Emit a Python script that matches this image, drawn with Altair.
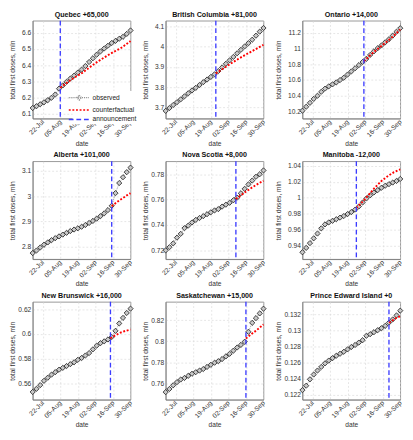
import altair as alt
import pandas as pd

FONT = "Liberation Sans"
START = "2021-07-14"

# day offsets (from 14-Jul-2021) of the sampled observed points
obs_day = [0, 3, 6, 9, 12, 15, 18, 21, 24, 27, 30, 33, 36, 39, 42, 45, 48, 51, 54, 57, 60, 63, 66, 69, 72, 75, 78]

quebec_obs = [6.137, 6.148, 6.160, 6.172, 6.185, 6.200, 6.220, 6.256, 6.276, 6.298, 6.318, 6.336, 6.355, 6.373,
              6.395, 6.420, 6.443, 6.465, 6.485, 6.503, 6.520, 6.537, 6.550, 6.563, 6.575, 6.593, 6.614]
quebec_cf_day = [22, 26, 30, 35, 40, 45, 50, 55, 60, 65, 70, 74, 78]
quebec_cf = [6.262, 6.285, 6.308, 6.332, 6.355, 6.385, 6.413, 6.438, 6.462, 6.484, 6.504, 6.526, 6.549]

bc_obs = [3.683, 3.697, 3.712, 3.726, 3.740, 3.755, 3.770, 3.784, 3.797, 3.811, 3.825, 3.838, 3.851, 3.864,
          3.880, 3.898, 3.916, 3.933, 3.950, 3.968, 3.985, 4.002, 4.018, 4.035, 4.055, 4.075, 4.093]
bc_cf_day = [40, 46, 52, 58, 64, 70, 78]
bc_cf = [3.868, 3.893, 3.917, 3.940, 3.962, 3.982, 4.010]

ontario_obs = [10.21, 10.26, 10.31, 10.36, 10.40, 10.45, 10.49, 10.52, 10.545, 10.57, 10.60, 10.63, 10.67, 10.71,
               10.75, 10.79, 10.83, 10.87, 10.92, 10.965, 11.005, 11.04, 11.08, 11.12, 11.165, 11.215, 11.26]
ontario_cf_day = [49, 55, 61, 67, 73, 78]
ontario_cf = [10.84, 10.93, 11.01, 11.085, 11.165, 11.245]

alberta_obs = [2.775, 2.785, 2.797, 2.808, 2.817, 2.826, 2.834, 2.841, 2.848, 2.855, 2.862, 2.868, 2.873, 2.879,
               2.886, 2.894, 2.902, 2.911, 2.921, 2.932, 2.945, 2.962, 3.012, 3.052, 3.075, 3.095, 3.113]
alberta_cf_day = [63, 66, 69, 72, 75, 78]
alberta_cf = [2.960, 2.972, 2.983, 2.993, 3.003, 3.012]

novascotia_obs = [0.7200, 0.7225, 0.7255, 0.7300, 0.7330, 0.7375, 0.7395, 0.7420, 0.7440, 0.7455, 0.7470, 0.7485,
                  0.7500, 0.7515, 0.7525, 0.7545, 0.7560, 0.7575, 0.7595, 0.7615, 0.7650, 0.7685, 0.7720, 0.7750,
                  0.7780, 0.7800, 0.7830]
novascotia_cf_day = [56, 60, 64, 68, 72, 76, 78]
novascotia_cf = [0.7605, 0.7633, 0.7663, 0.7690, 0.7715, 0.7738, 0.7748]

manitoba_obs = [0.9315, 0.9370, 0.9430, 0.9490, 0.9550, 0.9615, 0.9665, 0.9690, 0.9710, 0.9730, 0.9750, 0.9770,
                0.9795, 0.9820, 0.9850, 0.9890, 0.9940, 0.9990, 1.0030, 1.0065, 1.0095, 1.0125, 1.0150, 1.0170,
                1.0190, 1.0210, 1.0235]
manitoba_cf_day = [43, 48, 53, 58, 63, 68, 73, 78]
manitoba_cf = [0.987, 0.995, 1.004, 1.013, 1.021, 1.027, 1.032, 1.0355]

newbrunswick_obs = [0.5530, 0.5555, 0.5585, 0.5620, 0.5645, 0.5670, 0.5690, 0.5710, 0.5725, 0.5740, 0.5755,
                    0.5770, 0.5790, 0.5805, 0.5825, 0.5845, 0.5875, 0.5905, 0.5925, 0.5940, 0.5955, 0.5975,
                    0.6025, 0.6085, 0.6130, 0.6170, 0.6205]
newbrunswick_cf_day = [62, 66, 70, 74, 78]
newbrunswick_cf = [0.5965, 0.5990, 0.6010, 0.6025, 0.6035]

saskatchewan_obs = [0.7515, 0.7545, 0.7580, 0.7610, 0.7635, 0.7650, 0.7670, 0.7690, 0.7705, 0.7720, 0.7735,
                    0.7755, 0.7775, 0.7795, 0.7810, 0.7830, 0.7855, 0.7880, 0.7910, 0.7940, 0.7965, 0.7995,
                    0.8090, 0.8175, 0.8220, 0.8265, 0.8310]
saskatchewan_cf_day = [64, 68, 72, 76, 78]
saskatchewan_cf = [0.8025, 0.8065, 0.8100, 0.8140, 0.8160]

pei_obs = [0.12255, 0.12310, 0.12390, 0.12450, 0.12500, 0.12545, 0.12590, 0.12625, 0.12655, 0.12685, 0.12710,
           0.12735, 0.12765, 0.12795, 0.12820, 0.12850, 0.12880, 0.12935, 0.12955, 0.12980, 0.13005, 0.13030,
           0.13060, 0.13100, 0.13140, 0.13190, 0.13250]
pei_cf_day = [69, 72, 75, 78]
pei_cf = [0.1310, 0.1313, 0.1316, 0.1318]

titles = ["Quebec  +65,000", "British Columbia  +81,000", "Ontario  +14,000",
          "Alberta  +101,000", "Nova Scotia  +8,000", "Manitoba  -12,000",
          "New Brunswick  +16,000", "Saskatchewan  +15,000", "Prince Edward Island  +0"]
announce = ["2021-08-05", "2021-08-23", "2021-09-01",
            "2021-09-15", "2021-09-08", "2021-08-26",
            "2021-09-14", "2021-09-16", "2021-09-21"]
y_domains = [[6.072, 6.674], [3.645, 4.129], [10.11, 11.355],
             [2.751, 3.138], [0.7131, 0.7902], [0.9229, 1.0457],
             [0.5467, 0.626], [0.7443, 0.8375], [0.12135, 0.1336]]
y_ticks = [[6.1, 6.2, 6.3, 6.4, 6.5, 6.6], [3.7, 3.8, 3.9, 4.0, 4.1], [10.2, 10.4, 10.6, 10.8, 11.0, 11.2],
           [2.8, 2.9, 3.0, 3.1], [0.72, 0.74, 0.76, 0.78], [0.94, 0.96, 0.98, 1.0, 1.02, 1.04],
           [0.56, 0.58, 0.6, 0.62], [0.76, 0.78, 0.8, 0.82], [0.122, 0.124, 0.126, 0.128, 0.13, 0.132]]
x_tick_dates = [(7, 22), (8, 5), (8, 19), (9, 2), (9, 16), (9, 30)]

series = ["observed", "counterfactual", "announcement"]
series_colors = ["#8c8c8c", "#ff0000", "#3c3cff"]
series_dash = [[1, 1], [2, 1.8], [5, 3]]

obs_list = [quebec_obs, bc_obs, ontario_obs, alberta_obs, novascotia_obs, manitoba_obs,
            newbrunswick_obs, saskatchewan_obs, pei_obs]
cf_day_list = [quebec_cf_day, bc_cf_day, ontario_cf_day, alberta_cf_day, novascotia_cf_day, manitoba_cf_day,
               newbrunswick_cf_day, saskatchewan_cf_day, pei_cf_day]
cf_list = [quebec_cf, bc_cf, ontario_cf, alberta_cf, novascotia_cf, manitoba_cf,
           newbrunswick_cf, saskatchewan_cf, pei_cf]


def day_to_date(days):
    return (pd.Timestamp(START) + pd.to_timedelta(days, unit="D")).strftime("%Y-%m-%d").tolist()


def dt(m, d):
    return alt.DateTime(year=2021, month=m, date=d, utc=True)


color_scale = alt.Scale(domain=series, range=series_colors)
dash_scale = alt.Scale(domain=series, range=series_dash)

legend = alt.Legend(
    title=None, orient="none", legendX=42, legendY=74,
    symbolType={"expr": "datum.value === 'observed' ? 'M-2.75,0H2.75M0,-0.6L0.6,0L0,0.6L-0.6,0Z' : 'M-2.75,0H2.75'"},
    symbolSize=64, symbolStrokeWidth=1.5,
    symbolDash={"expr": "datum.value === 'counterfactual' ? [2, 1.8] : (datum.value === 'announcement' ? [5, 3] : [1, 1])"},
    symbolFillColor={"expr": "datum.value === 'observed' ? '#ffffff' : 'transparent'"},
    labelFontSize=7, labelFont=FONT, labelColor="#222222",
    fillColor="white", padding=2, rowPadding=2, labelOffset=9,
)

extents = [16, 16, 20]
panels = []
for i in range(9):
    obs_df = pd.DataFrame({"date": day_to_date(obs_day), "value": obs_list[i], "series": "observed"})
    cf_df = pd.DataFrame({"date": day_to_date(cf_day_list[i]), "value": cf_list[i], "series": "counterfactual"})
    ann_df = pd.DataFrame({"date": [announce[i]], "series": ["announcement"]})

    x = alt.X("date:T",
              scale=alt.Scale(type="utc", domain=[dt(7, 14), dt(9, 30)]),
              axis=alt.Axis(values=[dt(m, d) for m, d in x_tick_dates],
                            labelExpr="utcFormat(datum.value, '%d-%b')",
                            labelAngle=-45, labelAlign="right", labelBaseline="middle", labelFlush=False,
                            labelOverlap=False, title="date"))
    E = extents[i % 3]
    y = alt.Y("value:Q",
              scale=alt.Scale(domain=y_domains[i], zero=False, nice=False),
              axis=alt.Axis(values=y_ticks[i], format="~g", title="total first doses, mln",
                            minExtent=E, maxExtent=E))
    leg = legend if i == 0 else None
    col = alt.Color("series:N", scale=color_scale, legend=leg)
    dash = alt.StrokeDash("series:N", scale=dash_scale, legend=None)

    base_obs = alt.Chart(obs_df)
    line_obs = base_obs.mark_line(strokeWidth=0.9).encode(x=x, y=y, color=col, strokeDash=dash)
    pts_obs = base_obs.mark_point(shape="diamond", filled=True, fill="#c8c8c8", stroke="#111111",
                                  strokeWidth=0.8, size=30, opacity=1).encode(x=x, y=y)
    line_cf = alt.Chart(cf_df).mark_line(strokeWidth=2).encode(x=x, y=y, color=col, strokeDash=dash)
    rule = alt.Chart(ann_df).mark_rule(strokeWidth=1.4).encode(x=x, color=col, strokeDash=dash)

    p = alt.layer(line_obs, pts_obs, line_cf, rule).properties(
        width=103, height=103,
        title=alt.TitleParams(titles[i], fontSize=7.5, fontWeight="bold", font=FONT, offset=2, color="#111111"),
    )
    panels.append(p)

chart = alt.concat(*panels, columns=3, spacing={"row": 4, "column": 6}, align="each").properties(
    padding={"left": 0, "top": -9, "right": 0, "bottom": 0}
).configure_view(
    stroke="#7a7a7a", strokeWidth=0.8
).configure_axis(
    labelFont=FONT, titleFont=FONT, labelFontSize=7, titleFontSize=7,
    labelColor="#333333", titleColor="#333333", titleFontWeight="normal",
    domainColor="#7a7a7a", domainWidth=0.8, ticks=False, labelPadding=2, titlePadding=2,
    grid=True, gridColor="#d9d9d9", gridDash=[2, 2], gridWidth=0.7,
)

chart.save("out.html", embed_options={"renderer": "svg", "actions": False})
